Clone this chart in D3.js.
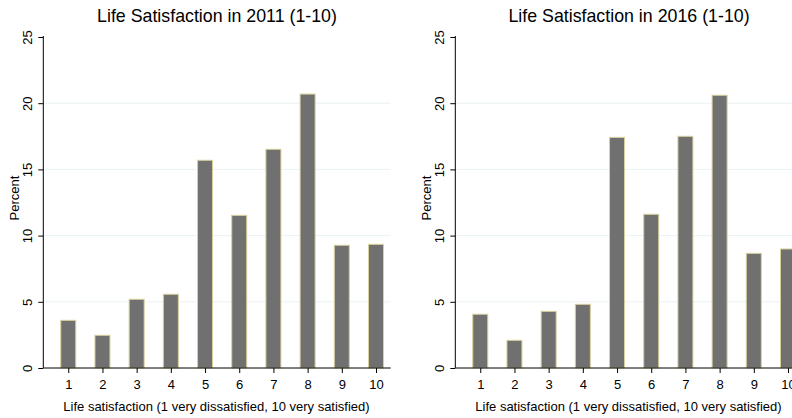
<!DOCTYPE html>
<html>
<head>
<meta charset="utf-8">
<script src="https://cdn.jsdelivr.net/npm/d3@7"></script>
<style>
  body { margin: 0; background: #fff; overflow: hidden; }
  svg { display: block; font-family: "Liberation Sans", Arial, sans-serif; }
</style>
</head>
<body>
<svg id="chart" width="792" height="418"></svg>
<script>
const width = 792;
const height = 418;

// data
const scores = [1, 2, 3, 4, 5, 6, 7, 8, 9, 10];
const pct2011 = [3.6, 2.47, 5.19, 5.57, 15.69, 11.53, 16.52, 20.69, 9.27, 9.34];
const pct2016 = [4.06, 2.09, 4.28, 4.81, 17.42, 11.61, 17.5, 20.6, 8.66, 8.99];
const yTicks = [0, 5, 10, 15, 20, 25];
const gridTicks = [5, 10, 15, 20];
const titles = ["Life Satisfaction in 2011 (1-10)", "Life Satisfaction in 2016 (1-10)"];
const xTitle = "Life satisfaction (1 very dissatisfied, 10 very satisfied)";
const yTitle = "Percent";

const svg = d3.select("#chart");

// one panel geometry (left panel); the right one is shifted by 412px
const plot = { left: 43.3, right: 390.7, top: 37, bottom: 368 };

const x = d3.scaleLinear()
    .domain([0.27, 10.43])
    .range([plot.left, plot.right]);

const y = d3.scaleLinear()
    .domain([0, 25])
    .range([plot.bottom, plot.top]);

const barW = 15;

function drawPanel(g, values, title) {
    // grid
    g.selectAll("line.grid")
        .data(gridTicks)
        .enter().append("line")
        .attr("x1", plot.left)
        .attr("x2", plot.right)
        .attr("y1", d => y(d))
        .attr("y2", d => y(d))
        .attr("stroke", "#eaf2f3")
        .attr("stroke-width", 1);

    // bars
    g.selectAll("rect.bar")
        .data(scores.map((s, i) => ({ s: s, v: values[i] })))
        .enter().append("rect")
        .attr("x", d => x(d.s) - barW / 2)
        .attr("y", d => y(d.v))
        .attr("width", barW)
        .attr("height", d => y(0) - y(d.v))
        .attr("fill", "#707070")
        .attr("stroke", "#d8d19c")
        .attr("stroke-width", 1);

    // y axis
    const yAxis = g.append("g")
        .attr("transform", `translate(${plot.left},0)`)
        .call(d3.axisLeft(y).tickValues(yTicks).tickSize(5).tickPadding(11));
    yAxis.select(".domain").attr("d", `M0,${plot.top - 1}V${plot.bottom}`).attr("stroke", "#000");
    yAxis.selectAll(".tick line").attr("stroke", "#000");
    yAxis.selectAll(".tick text")
        .attr("x", null).attr("dy", null)
        .attr("transform", "translate(-11,0) rotate(-90)")
        .attr("text-anchor", "middle")
        .style("font-size", "13px")
        .style("font-family", "Liberation Sans, Arial, sans-serif")
        .attr("fill", "#000");

    // x axis
    const xAxis = g.append("g")
        .attr("transform", `translate(0,${plot.bottom})`)
        .call(d3.axisBottom(x).tickValues(scores).tickSize(5).tickPadding(7));
    xAxis.select(".domain").attr("d", `M${plot.left},0H${plot.right}`).attr("stroke", "#000");
    xAxis.selectAll(".tick line").attr("stroke", "#000");
    xAxis.selectAll(".tick text")
        .style("font-size", "13px")
        .style("font-family", "Liberation Sans, Arial, sans-serif")
        .attr("fill", "#000");

    // axis titles
    g.append("text")
        .attr("x", (plot.left + plot.right) / 2 - 0.5)
        .attr("y", 411)
        .attr("text-anchor", "middle")
        .style("font-size", "13px")
        .text(xTitle);

    g.append("text")
        .attr("transform", `translate(19,198) rotate(-90)`)
        .attr("text-anchor", "middle")
        .style("font-size", "13px")
        .text(yTitle);

    // title
    g.append("text")
        .attr("x", 217)
        .attr("y", 22)
        .attr("text-anchor", "middle")
        .style("font-size", "17.8px")
        .text(title);
}

drawPanel(svg.append("g"), pct2011, titles[0]);
drawPanel(svg.append("g").attr("transform", "translate(412,0)"), pct2016, titles[1]);
</script>
</body>
</html>
